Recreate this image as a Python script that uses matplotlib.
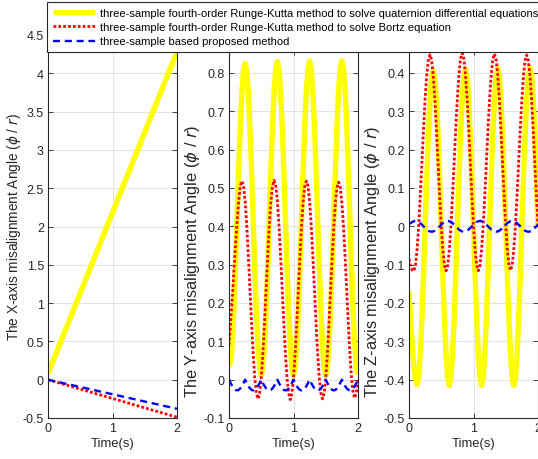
import numpy as np
import matplotlib
matplotlib.use("Agg")
from matplotlib import pyplot as plt

plt.rcParams["font.family"] = ["Liberation Sans", "DejaVu Sans"]
plt.rcParams["mathtext.fontset"] = "dejavusans"

# time grid (s), 0.025 s steps
t = np.linspace(0, 2, 81)
t_x = [0, 0.5, 1.0, 1.5, 2.0]

# X-axis angle, read at the five points above
x_rk_quat = [0.08, 1.13, 2.18, 3.23, 4.28]
x_rk_bortz = [0.0, -0.123, -0.245, -0.368, -0.49]
x_proposed = [0.0, -0.095, -0.19, -0.285, -0.38]

# Y-axis angle
y_rk_quat = [
    0.035, 0.045, 0.095, 0.182, 0.293, 0.418, 0.544, 0.657, 0.748, 0.806,
    0.825, 0.806, 0.748, 0.658, 0.545, 0.419, 0.293, 0.179, 0.088, 0.030,
    0.010, 0.030, 0.088, 0.179, 0.293, 0.420, 0.547, 0.661, 0.752, 0.810,
    0.830, 0.810, 0.752, 0.661, 0.547, 0.420, 0.293, 0.179, 0.088, 0.030,
    0.010, 0.030, 0.088, 0.179, 0.293, 0.421, 0.548, 0.662, 0.753, 0.811,
    0.831, 0.811, 0.753, 0.662, 0.548, 0.421, 0.293, 0.179, 0.088, 0.030,
    0.011, 0.031, 0.089, 0.180, 0.294, 0.421, 0.549, 0.663, 0.754, 0.812,
    0.832, 0.812, 0.754, 0.663, 0.549, 0.422, 0.295, 0.181, 0.090, 0.032,
    0.013,
]
y_rk_bortz = [
    0.090, 0.150, 0.210, 0.280, 0.350, 0.410, 0.466, 0.506, 0.518, 0.506,
    0.466, 0.403, 0.323, 0.235, 0.147, 0.067, 0.004, -0.036, -0.050, -0.036,
    0.004, 0.067, 0.147, 0.235, 0.323, 0.403, 0.466, 0.506, 0.520, 0.506,
    0.466, 0.403, 0.323, 0.235, 0.147, 0.067, 0.004, -0.036, -0.052, -0.036,
    0.004, 0.067, 0.147, 0.235, 0.322, 0.402, 0.465, 0.505, 0.518, 0.505,
    0.465, 0.402, 0.322, 0.235, 0.147, 0.067, 0.004, -0.036, -0.050, -0.036,
    0.004, 0.066, 0.146, 0.234, 0.321, 0.400, 0.462, 0.502, 0.515, 0.502,
    0.462, 0.400, 0.321, 0.234, 0.146, 0.066, 0.004, -0.035, -0.048, -0.035,
    0.004,
]
y_proposed = [
    0.0, -0.0087, -0.0165, -0.0227, -0.0266, -0.028, -0.0266, -0.0227, -0.0165, -0.0087,
    0.0, -0.0087, -0.0165, -0.0227, -0.0266, -0.028, -0.0266, -0.0227, -0.0165, -0.0087,
    0.0, -0.0087, -0.0165, -0.0227, -0.0266, -0.028, -0.0266, -0.0227, -0.0165, -0.0087,
    0.0, -0.0087, -0.0165, -0.0227, -0.0266, -0.028, -0.0266, -0.0227, -0.0165, -0.0087,
    0.0, -0.0087, -0.0165, -0.0227, -0.0266, -0.028, -0.0266, -0.0227, -0.0165, -0.0087,
    0.0, -0.0087, -0.0165, -0.0227, -0.0266, -0.028, -0.0266, -0.0227, -0.0165, -0.0087,
    0.0, -0.0087, -0.0165, -0.0227, -0.0266, -0.028, -0.0266, -0.0227, -0.0165, -0.0087,
    0.0, -0.0087, -0.0165, -0.0227, -0.0266, -0.028, -0.0266, -0.0227, -0.0165, -0.0087,
    0.0,
]

# Z-axis angle
z_rk_quat = [
    -0.170, -0.240, -0.310, -0.365, -0.400,
    -0.413, -0.393, -0.334, -0.243, -0.129, -0.003, 0.123, 0.237, 0.327, 0.386,
    0.406, 0.387, 0.329, 0.239, 0.125, -0.002, -0.129, -0.244, -0.335, -0.395,
    -0.415, -0.395, -0.336, -0.244, -0.129, -0.002, 0.125, 0.240, 0.331, 0.390,
    0.410, 0.390, 0.331, 0.240, 0.125, -0.002, -0.129, -0.244, -0.335, -0.395,
    -0.415, -0.395, -0.336, -0.244, -0.129, -0.001, 0.126, 0.241, 0.332, 0.391,
    0.412, 0.392, 0.333, 0.242, 0.126, -0.001, -0.129, -0.244, -0.336, -0.395,
    -0.415, -0.395, -0.336, -0.244, -0.128, 0.000, 0.127, 0.242, 0.334, 0.393,
    0.414, 0.394, 0.334, 0.243, 0.127, 0.000,
]
z_rk_bortz = [
    -0.085, -0.104, -0.114,
    -0.117, -0.102, -0.062, 0.001, 0.080, 0.167, 0.254, 0.333, 0.395, 0.434,
    0.448, 0.434, 0.395, 0.333, 0.254, 0.167, 0.080, 0.001, -0.062, -0.102,
    -0.116, -0.102, -0.062, 0.001, 0.080, 0.167, 0.255, 0.334, 0.397, 0.438,
    0.452, 0.438, 0.397, 0.334, 0.255, 0.167, 0.080, 0.001, -0.062, -0.102,
    -0.116, -0.102, -0.062, 0.001, 0.080, 0.167, 0.254, 0.333, 0.396, 0.436,
    0.450, 0.436, 0.396, 0.333, 0.254, 0.167, 0.080, 0.001, -0.062, -0.102,
    -0.115, -0.101, -0.061, 0.001, 0.080, 0.167, 0.253, 0.332, 0.394, 0.433,
    0.447, 0.433, 0.394, 0.332, 0.253, 0.167, 0.080, 0.001,
]
z_proposed = [
    0.006, 0.0082, 0.0113, 0.0133,
    0.014, 0.0133, 0.0113, 0.0082, 0.0043, 0.0, -0.0043, -0.0082, -0.0113, -0.0133,
    -0.014, -0.0133, -0.0113, -0.0082, -0.0043, 0.0, 0.0043, 0.0082, 0.0113, 0.0133,
    0.014, 0.0133, 0.0113, 0.0082, 0.0043, 0.0, -0.0043, -0.0082, -0.0113, -0.0133,
    -0.014, -0.0133, -0.0113, -0.0082, -0.0043, 0.0, 0.0043, 0.0082, 0.0113, 0.0133,
    0.014, 0.0133, 0.0113, 0.0082, 0.0043, 0.0, -0.0043, -0.0082, -0.0113, -0.0133,
    -0.014, -0.0133, -0.0113, -0.0082, -0.0043, 0.0, 0.0043, 0.0082, 0.0113, 0.0133,
    0.014, 0.0133, 0.0113, 0.0082, 0.0043, 0.0, -0.0043, -0.0082, -0.0113, -0.0133,
    -0.014, -0.0133, -0.0113, -0.0082, -0.0043, 0.0, 0.0043,
]

labels = [
    "three-sample fourth-order Runge-Kutta method to solve quaternion differential equations",
    "three-sample fourth-order Runge-Kutta method to solve Bortz equation",
    "three-sample based proposed method",
]

W, H = 538, 460
fig = plt.figure(figsize=(W / 100, H / 100), dpi=100)
dark = "#262626"

# axes boxes in pixels: left, right, top, bottom
boxes = [(48, 177, 36, 419), (229, 358, 51, 419), (409, 538, 51, 419)]
ylims = [(-0.5, 4.5), (-0.1, 0.86), (-0.5, 0.46)]
yticks = [np.arange(-0.5, 4.51, 0.5), np.arange(-0.1, 0.81, 0.1), np.arange(-0.5, 0.41, 0.1)]
ylabels = ["The X-axis misalignment Angle ($\\phi$ / $r$)",
           "The Y-axis misalignment Angle ($\\phi$ / $r$)",
           "The Z-axis misalignment Angle ($\\phi$ / $r$)"]
# ylabel centre (px) and size
ylabel_pos = [(14, 227, 9.8), (193, 261, 11.8), (373, 262, 11.8)]
series = [
    (t_x, x_rk_quat, x_rk_bortz, x_proposed),
    (t, y_rk_quat, y_rk_bortz, y_proposed),
    (t, z_rk_quat, z_rk_bortz, z_proposed),
]

handles = None
for (l, r, tp, b), yl, yt, lab, (lx, ly, lfs), (tt, a, bz, pr) in zip(
        boxes, ylims, yticks, ylabels, ylabel_pos, series):
    ax = fig.add_axes([l / W, (H - b) / H, (r - l) / W, (b - tp) / H])
    h1, = ax.plot(tt, a, color="#ffff00", lw=3.9, solid_capstyle="butt")
    h2, = ax.plot(tt, bz, color="#ff0000", lw=2.0, linestyle=(0, (1, 0.75)))
    h3, = ax.plot(tt, pr, color="#0000ff", lw=1.7, linestyle=(0, (3.0, 2.0)))
    handles = [h1, h2, h3]
    ax.set_xlim(0, 2)
    ax.set_ylim(*yl)
    ax.set_xticks([0, 1, 2])
    ax.set_xticklabels(["0", "1", "2"])
    ax.set_yticks(yt)
    ax.set_yticklabels([f"{v + 0.0:g}" for v in np.round(yt, 2)])
    ax.grid(True, color="#dedede", lw=0.6)
    ax.set_axisbelow(True)
    ax.tick_params(direction="in", length=3.5, width=0.6, top=True, right=True,
                   labelsize=9, colors=dark, pad=3)
    for s in ax.spines.values():
        s.set_color(dark)
        s.set_linewidth(0.8)
    ax.set_xlabel("Time(s)", fontsize=9.4, color=dark, labelpad=2)
    fig.text(lx / W, 1 - ly / H, lab, rotation=90, ha="center", va="center",
             fontsize=lfs, color=dark)

leg = fig.legend(handles, labels, loc="upper left", bbox_to_anchor=(47 / W, 1 - 3 / H),
                 fontsize=8.0, frameon=True, fancybox=False, edgecolor=dark,
                 framealpha=1, handlelength=3.85, handletextpad=0.4,
                 labelspacing=0.4, borderpad=0.5, borderaxespad=0)
leg.get_frame().set_linewidth(0.8)

fig.savefig("out.png", dpi=100)
